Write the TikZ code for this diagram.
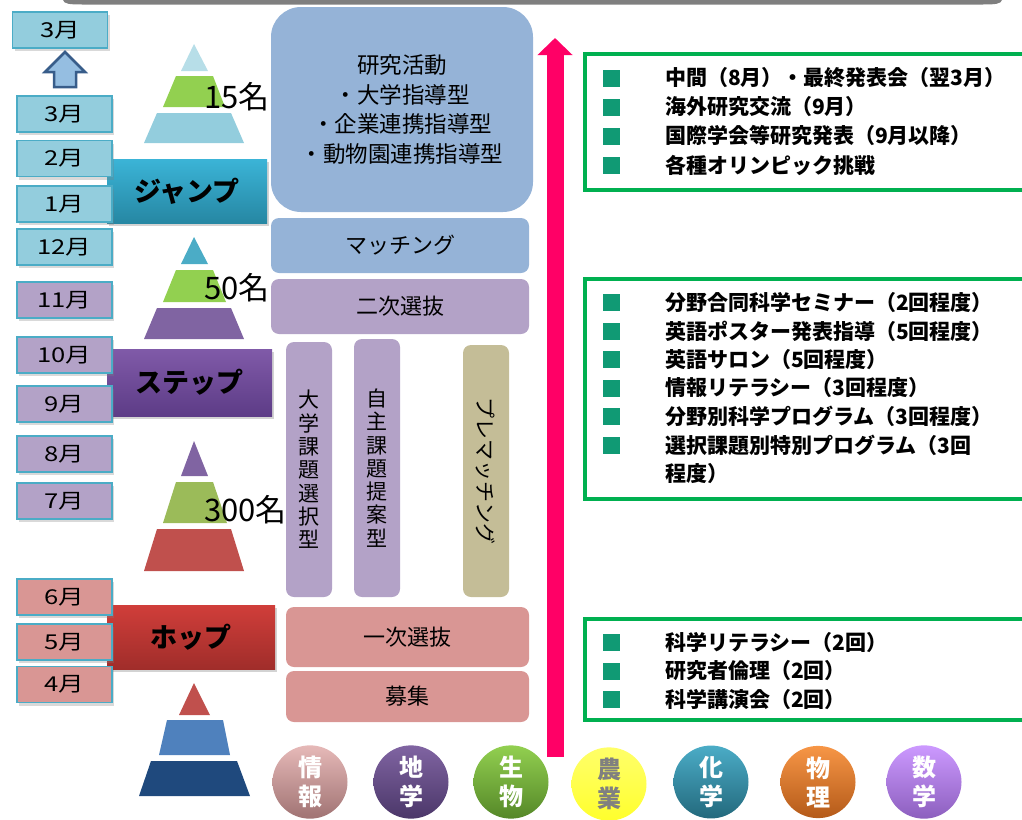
\documentclass[tikz,border=0pt]{standalone}
\usepackage{fontspec}
\setmainfont{Noto Sans CJK JP}
\newfontfamily\jpwide{Noto Sans CJK JP}[FakeStretch=1.25]
\usetikzlibrary{shadows,arrows.meta,shapes.geometric}
\definecolor{mblue}{RGB}{147,205,221}
\definecolor{mpurple}{RGB}{179,162,199}
\definecolor{mpink}{RGB}{217,150,148}
\definecolor{mborder}{RGB}{75,172,198}
\definecolor{cblue}{RGB}{149,179,215}
\definecolor{cpurple}{RGB}{179,162,199}
\definecolor{cpink}{RGB}{217,150,148}
\definecolor{ckhaki}{RGB}{196,189,151}
\definecolor{arrowpink}{RGB}{255,0,102}
\definecolor{gborder}{RGB}{0,176,80}
\definecolor{bulletc}{RGB}{16,154,116}
\definecolor{topgray}{RGB}{127,127,127}
\definecolor{jtop}{RGB}{59,180,215}
\definecolor{jbot}{RGB}{38,135,163}
\definecolor{stop}{RGB}{128,90,168}
\definecolor{sbot}{RGB}{93,60,135}
\definecolor{htop}{RGB}{208,62,58}
\definecolor{hbot}{RGB}{160,45,42}
\definecolor{plblue}{RGB}{183,222,232}
\definecolor{pgreen}{RGB}{146,208,80}
\definecolor{pblue}{RGB}{147,205,221}
\definecolor{pteal}{RGB}{75,172,198}
\definecolor{ppurple}{RGB}{128,100,162}
\definecolor{polive}{RGB}{155,187,89}
\definecolor{pred}{RGB}{192,80,77}
\definecolor{pmblue}{RGB}{79,129,189}
\definecolor{pdblue}{RGB}{31,73,125}
\definecolor{sarrfill}{RGB}{149,190,225}
\definecolor{sarrdraw}{RGB}{56,93,138}
\definecolor{infotop}{RGB}{230,185,184}
\definecolor{infobot}{RGB}{160,115,115}
\definecolor{earthtop}{RGB}{128,100,162}
\definecolor{earthbot}{RGB}{75,55,105}
\definecolor{biotop}{RGB}{146,208,80}
\definecolor{biobot}{RGB}{85,135,40}
\definecolor{chemtop}{RGB}{75,172,198}
\definecolor{chembot}{RGB}{35,105,125}
\definecolor{phystop}{RGB}{247,150,70}
\definecolor{physbot}{RGB}{180,90,25}
\definecolor{mathtop}{RGB}{204,153,255}
\definecolor{mathbot}{RGB}{140,95,190}
\definecolor{agritext}{RGB}{128,128,128}
\pgfdeclareverticalshading{agrishade}{100bp}{color(0bp)=(yellow!95!white); color(60bp)=(yellow!65!white); color(88bp)=(yellow!55!white); color(100bp)=(pteal)}
\begin{document}
\begin{tikzpicture}[x=1pt,y=-1pt,
  mbox/.style={draw=mborder, line width=1.5pt, minimum width=95pt, minimum height=36pt, inner sep=0pt, font=\jpwide\fontsize{20.5}{22}\selectfont, drop shadow={opacity=0.3,shadow xshift=2pt,shadow yshift=-3pt}},
  banner/.style={minimum width=160pt, minimum height=64pt, inner sep=0pt, font=\bfseries\fontsize{27}{30}\selectfont, drop shadow={opacity=0.35,shadow xshift=2pt,shadow yshift=-3pt}},
  cbox/.style={rounded corners=8pt, inner sep=0pt, font=\fontsize{22}{26}\selectfont},
  colbox/.style={rounded corners=8pt, inner sep=0pt, font=\fontsize{21}{23.3}\selectfont, align=center},
  gbox/.style={draw=gborder, line width=4pt},
  bsq/.style={fill=bulletc, minimum size=17pt, inner sep=0pt},
  itemtxt/.style={anchor=west, inner sep=0pt, font=\bfseries\fontsize{21}{28.5}\selectfont, align=left},
  subj/.style={ellipse, minimum width=75pt, minimum height=68pt, inner sep=0pt, text=white, font=\bfseries\fontsize{24}{29}\selectfont, align=center},
  numlbl/.style={anchor=west, inner sep=0pt, font=\fontsize{31}{34}\selectfont},
]
\useasboundingbox (0,0) rectangle (1022,819);
\clip (0,0) rectangle (1022,819);

% top gray bar
\fill[topgray] (63,0) .. controls (64,4) and (70,4.5) .. (82,4.5) -- (983,4.5) .. controls (995,4.5) and (1001,4) .. (1002,0) -- cycle;

% pyramid 1
\fill[plblue] (194,44) -- (208,71) -- (181,71) -- cycle;
\fill[pgreen] (176,76) -- (213,76) -- (225,107) -- (163,107) -- cycle;
\fill[pblue] (157,113) -- (231,113) -- (244,143) -- (144,143) -- cycle;
% pyramid 2
\fill[pteal] (194,237) -- (208,264) -- (181,264) -- cycle;
\fill[pgreen] (176,270) -- (213,270) -- (226,302) -- (163,302) -- cycle;
\fill[ppurple] (157,308) -- (231,308) -- (244,339) -- (144,339) -- cycle;
% pyramid 3
\fill[ppurple] (194,441) -- (208,476) -- (181,476) -- cycle;
\fill[polive] (176,482) -- (213,482) -- (227,523) -- (163,523) -- cycle;
\fill[pred] (157,529) -- (231,529) -- (244,571) -- (144,571) -- cycle;
% pyramid 4
\fill[pred] (194,683) -- (210,715) -- (179,715) -- cycle;
\fill[pmblue] (167,720) -- (223,720) -- (230,755) -- (159,755) -- cycle;
\fill[pdblue] (151,761) -- (237,761) -- (250,796) -- (139,796) -- cycle;

\node[numlbl] (n15) at (204,97) {15名};
\node[numlbl] (n50) at (204,288) {50名};
\node[numlbl] (n300) at (204,510) {300名};

% banners
\node[banner, top color=jtop, bottom color=jbot] (jump) at (187,191) {ジャンプ};
\node[banner, minimum width=165pt, minimum height=67pt, top color=stop, bottom color=sbot] (step) at (189.5,382.5) {ステップ};
\node[banner, minimum width=168pt, top color=htop, bottom color=hbot] (hop) at (191,637) {ホップ};

% month boxes
\node[mbox, fill=mblue] (mar0) at (60,30) {3月};
\filldraw[fill=sarrfill, draw=sarrdraw, line width=2.5pt, line join=miter]
  (65,52) -- (85,72) -- (76,72) -- (76,87) -- (54,87) -- (54,72) -- (45,72) -- cycle;
\node[mbox, fill=mblue] (mar) at (64.5,114) {3月};
\node[mbox, fill=mblue] (feb) at (64.5,158.5) {2月};
\node[mbox, fill=mblue] (jan) at (64.5,204) {1月};
\node[mbox, fill=mblue] (dec) at (64.5,247) {12月};
\node[mbox, fill=mpurple] (nov) at (64.5,300) {11月};
\node[mbox, fill=mpurple] (oct) at (64.5,355) {10月};
\node[mbox, fill=mpurple] (sep) at (64.5,404) {9月};
\node[mbox, fill=mpurple] (aug) at (64.5,454) {8月};
\node[mbox, fill=mpurple] (jul) at (64.5,501) {7月};
\node[mbox, fill=mpink] (jun) at (64.5,597) {6月};
\node[mbox, fill=mpink] (may) at (64.5,642) {5月};
\node[mbox, fill=mpink] (apr) at (64.5,684.5) {4月};

% center column
\node[cbox, fill=cblue, rounded corners=30pt, minimum width=262pt, minimum height=205pt, align=center, font=\fontsize{22.5}{29.5}\selectfont] (research) at (402,109.5)
  {研究活動\\・大学指導型\\・企業連携指導型\\・動物園連携指導型};
\node[cbox, fill=cblue, minimum width=258pt, minimum height=55pt] (matching) at (400,245.5) {マッチング};
\node[cbox, fill=cpurple, minimum width=258pt, minimum height=55pt] (second) at (400,306.5) {二次選抜};
\node[colbox, fill=cpurple, minimum width=46pt, minimum height=255pt] (univ) at (309,469.5) {大\\学\\課\\題\\選\\択\\型};
\node[colbox, fill=cpurple, minimum width=46pt, minimum height=258pt] (self) at (377,468) {自\\主\\課\\題\\提\\案\\型};
\node[colbox, fill=ckhaki, rotate=-90, minimum width=252pt, minimum height=46pt] (pre) at (486,471) {プレマッチング};
\node[cbox, fill=cpink, minimum width=243pt, minimum height=60pt] (first) at (407.5,637) {一次選抜};
\node[cbox, fill=cpink, minimum width=243pt, minimum height=51pt] (recruit) at (407.5,696.5) {募集};

% big arrow
\coordinate (arrS) at (555,757);
\coordinate (arrE) at (555,38);
\draw[arrowpink, line width=17pt, -{Triangle[length=17pt,width=34pt]}] (arrS) -- (arrE);

% right boxes
\draw[gbox] (584.7,53.7) rectangle (1040,189.7);
\draw[gbox] (584.7,278.7) rectangle (1040,498.7);
\draw[gbox] (584.7,619.3) rectangle (1040,720);

\foreach \y in {78,107,136,165,302.5,331,359.5,388,416.5,445,642.5,671,699.5}
  \node[bsq] at (611.5,\y) {};

\node[itemtxt] (a1) at (665,78) {中間（8月）・最終発表会（翌3月）};
\node[itemtxt] (a2) at (665,107) {海外研究交流（9月）};
\node[itemtxt] (a3) at (665,136) {国際学会等研究発表（9月以降）};
\node[itemtxt] (a4) at (665,165) {各種オリンピック挑戦};

\node[itemtxt] (b1) at (665,302.5) {分野合同科学セミナー（2回程度）};
\node[itemtxt] (b2) at (665,331) {英語ポスター発表指導（5回程度）};
\node[itemtxt] (b3) at (665,359.5) {英語サロン（5回程度）};
\node[itemtxt] (b4) at (665,388) {情報リテラシー（3回程度）};
\node[itemtxt] (b5) at (665,416.5) {分野別科学プログラム（3回程度）};
\node[itemtxt] (b6) at (665,459.25) {選択課題別特別プログラム（3回\\程度）};

\node[itemtxt] (c1) at (665,642.5) {科学リテラシー（2回）};
\node[itemtxt] (c2) at (665,671) {研究者倫理（2回）};
\node[itemtxt] (c3) at (665,699.5) {科学講演会（2回）};

% subject circles
\node[subj, top color=infotop, bottom color=infobot] (info) at (310,782) {情\\報};
\node[subj, top color=earthtop, bottom color=earthbot] (earth) at (411,782) {地\\学};
\node[subj, top color=biotop, bottom color=biobot] (bio) at (511,782) {生\\物};
\node[subj, shading=agrishade, text=agritext] (agri) at (609,784) {農\\業};
\node[subj, top color=chemtop, bottom color=chembot] (chem) at (711,782) {化\\学};
\node[subj, top color=phystop, bottom color=physbot] (phys) at (818,782) {物\\理};
\node[subj, top color=mathtop, bottom color=mathbot] (math) at (924,782) {数\\学};
\end{tikzpicture}
\end{document}
